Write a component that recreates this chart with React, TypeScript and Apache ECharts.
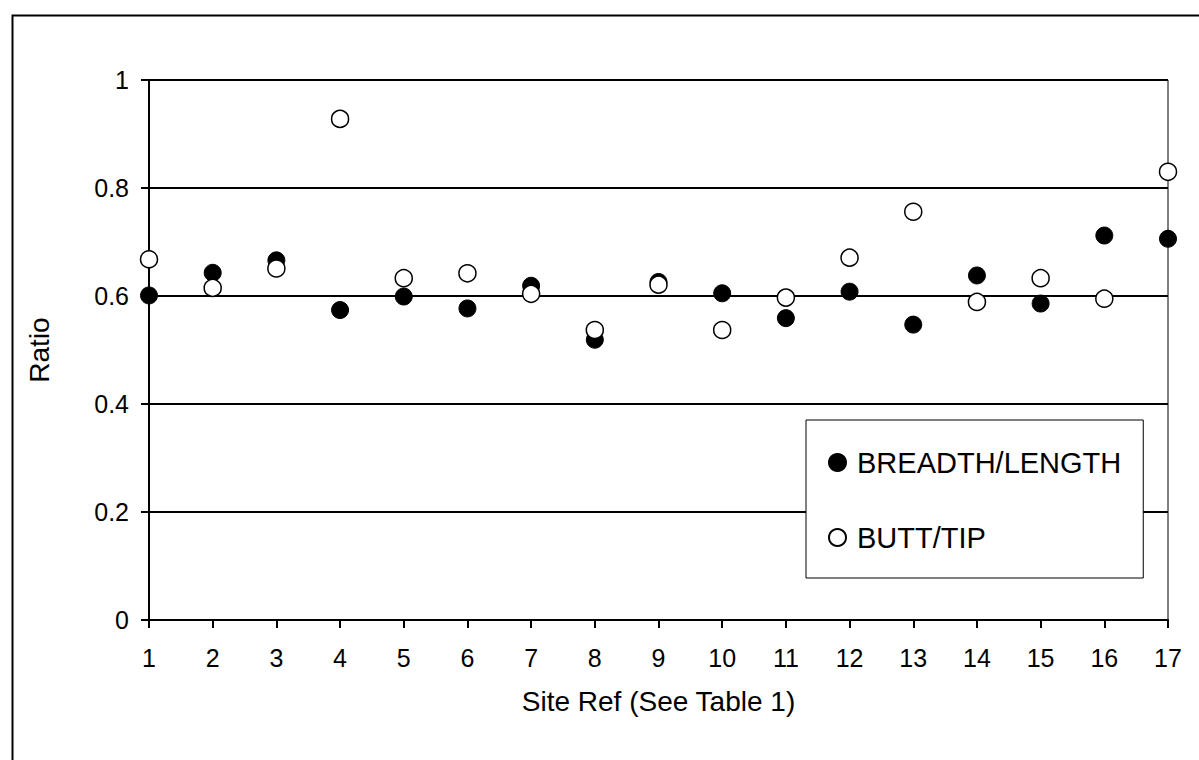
import React, { useEffect, useRef } from "react";
import * as echarts from "echarts";

const sites = [1, 2, 3, 4, 5, 6, 7, 8, 9, 10, 11, 12, 13, 14, 15, 16, 17];
const breadthLength = [0.601, 0.643, 0.666, 0.574, 0.599, 0.577, 0.619, 0.519, 0.626, 0.605, 0.559, 0.608, 0.547, 0.638, 0.586, 0.712, 0.706];
const buttTip = [0.668, 0.615, 0.651, 0.928, 0.633, 0.642, 0.604, 0.537, 0.621, 0.537, 0.597, 0.671, 0.756, 0.589, 0.633, 0.595, 0.830];
const seriesNames = ["BREADTH/LENGTH", "BUTT/TIP"];
const xTitle = "Site Ref (See Table 1)";
const yTitle = "Ratio";

const FONT = "'Liberation Sans', Arial, sans-serif";

export default function App() {
  const ref = useRef<HTMLDivElement>(null);
  useEffect(() => {
    if (!ref.current) return;
    const chart = echarts.init(ref.current, undefined, { renderer: "svg" });
    chart.setOption({
      animation: false,
      backgroundColor: "#ffffff",
      textStyle: { fontFamily: FONT, color: "#000" },
      grid: { left: 149, top: 80, right: 31, bottom: 140, show: true, borderColor: "#000", borderWidth: 1, backgroundColor: "transparent" },
      graphic: [
        { type: "rect", left: 10, top: 13, shape: { x: 0, y: 0, width: 1200, height: 760 }, style: { fill: "none", stroke: "#000", lineWidth: 2 }, silent: true, z: -10 },
      ],
      legend: {
        orient: "vertical",
        left: 806,
        top: 420,
        padding: [28, 22, 26, 22],
        borderColor: "#000",
        borderWidth: 1,
        backgroundColor: "#fff",
        itemWidth: 17,
        itemHeight: 17,
        itemGap: 46,
        icon: "circle",
        textStyle: { fontFamily: FONT, fontSize: 29, color: "#000", padding: [0, 0, 0, 6] },
        data: seriesNames,
      },
      xAxis: {
        type: "value",
        min: 1,
        max: 17,
        interval: 1,
        name: xTitle,
        nameLocation: "middle",
        nameGap: 67,
        nameTextStyle: { fontFamily: FONT, fontSize: 28, color: "#000" },
        axisLine: { show: true, lineStyle: { color: "#000", width: 2 } },
        axisTick: { show: true, length: 8, lineStyle: { color: "#000", width: 2 } },
        axisLabel: { fontFamily: FONT, fontSize: 25, color: "#000", margin: 25 },
        splitLine: { show: false },
      },
      yAxis: {
        type: "value",
        min: 0,
        max: 1,
        interval: 0.2,
        name: yTitle,
        nameLocation: "middle",
        nameGap: 96,
        nameTextStyle: { fontFamily: FONT, fontSize: 28, color: "#000" },
        axisLine: { show: true, lineStyle: { color: "#000", width: 2 } },
        axisTick: { show: true, length: 8, lineStyle: { color: "#000", width: 2 } },
        axisLabel: { fontFamily: FONT, fontSize: 25, color: "#000", margin: 20 },
        splitLine: { show: true, lineStyle: { color: "#000", width: 2 } },
      },
      series: [
        {
          name: seriesNames[0],
          type: "scatter",
          symbol: "circle",
          symbolSize: 17,
          itemStyle: { color: "#000", borderColor: "#000", borderWidth: 1, opacity: 1 },
          data: sites.map((s, i) => [s, breadthLength[i]]),
          z: 3,
        },
        {
          name: seriesNames[1],
          type: "scatter",
          symbol: "circle",
          symbolSize: 17,
          itemStyle: { color: "#fff", borderColor: "#000", borderWidth: 1.5, opacity: 1 },
          data: sites.map((s, i) => [s, buttTip[i]]),
          z: 4,
        },
      ],
    });
    return () => chart.dispose();
  }, []);
  return <div ref={ref} style={{ position: "fixed", left: 0, top: 0, width: 1199, height: 760 }} />;
}
